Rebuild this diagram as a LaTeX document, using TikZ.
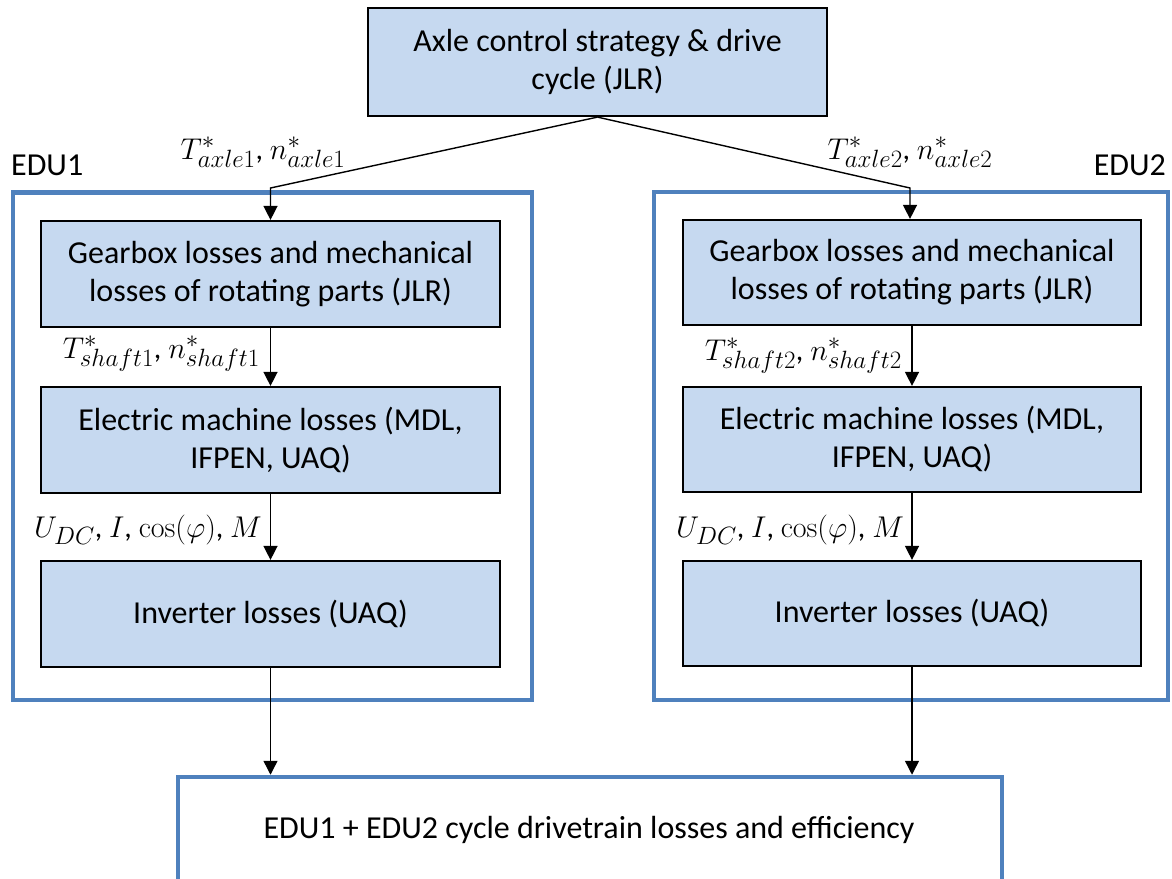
\RequirePackage{fix-cm}
\documentclass[tikz,border=0pt]{standalone}
\usepackage[no-math]{fontspec}
\setmainfont{Carlito}
\usetikzlibrary{arrows.meta}
\DeclareMathSizes{30}{30}{25}{19}
\definecolor{boxfill}{RGB}{198,217,240}
\definecolor{edublue}{RGB}{79,129,189}
\tikzset{
  x=1pt, y=-1pt,
  procbox/.style={draw=black, line width=2.2pt, fill=boxfill, inner sep=0pt,
    align=center, font=\fontsize{32}{38}\selectfont},
  edubox/.style={draw=edublue, line width=4.5pt, inner sep=0pt},
  flow/.style={draw=black, line width=1.4pt,
    -{Triangle[width=14pt,length=14pt]}},
  sig/.style={font=\fontsize{30}{34}\selectfont, inner sep=0pt},
  edulabel/.style={font=\fontsize{32}{36}\selectfont, inner sep=0pt},
}
\begin{document}
\begin{tikzpicture}
\useasboundingbox (0,0) rectangle (1172,878);

% EDU frames
\node[edubox, minimum width=519pt, minimum height=507.5pt] (edu1) at (272.5,446.25) {};
\node[edubox, minimum width=514pt, minimum height=508pt] (edu2) at (911,446) {};
\node[edulabel, anchor=west] (edu1lab) at (11,165) {EDU1};
\node[edulabel, anchor=east] (edu2lab) at (1166,165) {EDU2};

% result box (runs past the lower edge)
\node[edubox, minimum width=824pt, minimum height=108pt] (result) at (590,831) {};
\node[font=\fontsize{32}{38}\selectfont] (resulttext) at (589,830)
  {EDU1 + EDU2 cycle drivetrain losses and efficiency};

% strategy box
\node[procbox, minimum width=459pt, minimum height=108pt] (axle) at (597.5,62)
  {Axle control strategy \& drive\\cycle (JLR)};

% EDU1 chain
\node[procbox, minimum width=459pt, minimum height=106pt] (gb1) at (270.5,274)
  {Gearbox losses and mechanical\\losses of rotating parts (JLR)};
\node[procbox, minimum width=459pt, minimum height=106pt] (em1) at (270.5,440)
  {Electric machine losses (MDL,\\IFPEN, UAQ)};
\node[procbox, minimum width=459pt, minimum height=106pt] (inv1) at (270.5,614)
  {Inverter losses (UAQ)};

% EDU2 chain
\node[procbox, minimum width=458pt, minimum height=105pt] (gb2) at (912,272.5)
  {Gearbox losses and mechanical\\losses of rotating parts (JLR)};
\node[procbox, minimum width=458pt, minimum height=105pt] (em2) at (912,439.5)
  {Electric machine losses (MDL,\\IFPEN, UAQ)};
\node[procbox, minimum width=458pt, minimum height=105pt] (inv2) at (912,613.5)
  {Inverter losses (UAQ)};

% connectors
\coordinate (split1) at (270.5,188);
\coordinate (split2) at (910,188);
\draw[flow] (axle.south) -- (split1) -- (gb1.north);
\draw[flow] (axle.south) -- (split2) -- (split2 |- gb2.north);
\draw[flow] (gb1.south) -- (em1.north);
\draw[flow] (em1.south) -- (inv1.north);
\draw[flow] (gb2.south) -- (em2.north);
\draw[flow] (em2.south) -- (inv2.north);
\draw[flow] (inv1.south) -- (inv1.south |- result.north);
\draw[flow] (inv2.south) -- (inv2.south |- result.north);

% signal labels
\node[sig] (s1) at (263,152) {$T^*_{axle1}$, $n^*_{axle1}$};
\node[sig] (s2) at (910,152) {$T^*_{axle2}$, $n^*_{axle2}$};
\node[sig, anchor=east] (s3) at (260,354) {$T^*_{shaft1}$, $n^*_{shaft1}$};
\node[sig, anchor=east] (s4) at (902,356) {$T^*_{shaft2}$, $n^*_{shaft2}$};
\node[sig, anchor=east] (s5) at (262,530) {$U_{DC}$, $I$, $\cos(\varphi)$, $M$};
\node[sig, anchor=east] (s6) at (904,530) {$U_{DC}$, $I$, $\cos(\varphi)$, $M$};
\end{tikzpicture}
\end{document}
